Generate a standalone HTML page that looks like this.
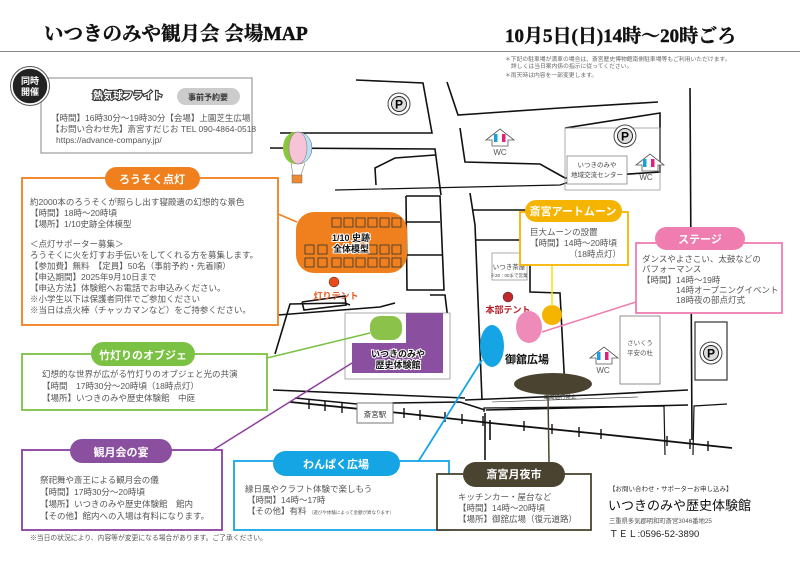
<!DOCTYPE html>
<html><head><meta charset="utf-8">
<style>
html,body{margin:0;padding:0;background:#fff;}
svg{display:block;}
text{font-family:"Liberation Sans","Noto Sans CJK JP",sans-serif;}
.t{font-size:8.5px;fill:#555;}
.pill{font-size:11px;fill:#fff;font-weight:bold;}
.serif{font-family:"Liberation Serif","Noto Serif CJK JP",serif;font-weight:bold;}
</style></head>
<body>
<svg width="800" height="566" viewBox="0 0 800 566" xmlns="http://www.w3.org/2000/svg">
<rect width="800" height="566" fill="#fff"/>
<!-- header -->
<text x="44" y="40" class="serif" font-size="19.5" fill="#111" stroke="#111" stroke-width="0.4">いつきのみや観月会 会場MAP</text>
<text x="505" y="42" class="serif" font-size="19" fill="#111" stroke="#111" stroke-width="0.4">10月5日(日)14時～20時ごろ</text>
<line x1="0" y1="51.5" x2="800" y2="51.5" stroke="#888" stroke-width="1"/>
<text x="505" y="61" font-size="5.8" fill="#666">＊下記の駐車場が満車の場合は、斎宮歴史博物館南側駐車場等もご利用いただけます。</text>
<text x="511" y="68" font-size="5.8" fill="#666">詳しくは当日案内係の指示に従ってください。</text>
<text x="505" y="77" font-size="5.8" fill="#666">＊雨天時は内容を一部変更します。</text>

<!-- roads -->
<g fill="none" stroke="#111" stroke-width="1.6">
<polyline points="356,80 423,83 432,133 280,133"/>
<polyline points="270,148 435,149 441,195"/>
<polyline points="376,185 375,168 395,158 435,155"/>
<polyline points="447,82 458,115 560,108 658,102"/>
<polyline points="460,128 465,162 540,164 565,178 660,172 660,113 565,128"/>
<polyline points="470,193 475,225 482,400"/>
<polyline points="473,210 530,210"/>
<polyline points="475,240 530,240 530,292 560,293 565,390"/>
<line x1="690" y1="88" x2="692" y2="440"/>
<polyline points="406,196 440,196 444,290 407,290 406,196"/>
<polyline points="407,222 440,222"/>
<polyline points="405,255 442,255"/>
<polyline points="278,315 380,307 395,303"/>
<polyline points="302,302 345,296 346,305 304,310 302,302"/>
<polyline points="430,295 445,295 448,320"/>
<polyline points="275,354 290,304 345,303 350,305"/>
<polyline points="465,400 590,395 688,390"/>
<polyline points="486,410 688,405"/>
<polyline points="490,420 490,440"/>
<polyline points="485,413 485,460"/>
<line x1="273" y1="390" x2="465" y2="398"/>
<line x1="295" y1="398" x2="357" y2="404"/>
<polyline points="392,403 460,402 485,410"/>
</g>
<polyline points="335,190 560,185 575,180" fill="none" stroke="#111" stroke-width="1.2"/>
<rect x="565" y="128" width="95" height="62" fill="none" stroke="#999" stroke-width="0.8"/>
<rect x="567" y="156" width="60" height="28" fill="#fff" stroke="#777" stroke-width="0.7"/>
<text x="597" y="167" text-anchor="middle" font-size="6.5" fill="#444">いつきのみや</text>
<text x="597" y="177" text-anchor="middle" font-size="6.5" fill="#444">地域交流センター</text>
<!-- plaza boxes -->
<rect x="620" y="316" width="40" height="68" fill="#fff" stroke="#777" stroke-width="0.8"/>
<text x="640" y="345" text-anchor="middle" font-size="6.5" fill="#555">さいくう</text>
<text x="640" y="355" text-anchor="middle" font-size="6.5" fill="#555">平安の杜</text>
<rect x="695" y="322" width="32" height="58" fill="none" stroke="#333" stroke-width="1.2"/>
<!-- rail -->
<polyline points="290,402 400,413 500,424 600,434 732,448" fill="none" stroke="#111" stroke-width="1.8"/>
<g stroke="#111" stroke-width="1.4">
<line x1="309" y1="399" x2="309" y2="409"/><line x1="325" y1="401" x2="325" y2="411"/><line x1="342" y1="403" x2="342" y2="413"/>
<line x1="404" y1="408" x2="404" y2="418"/><line x1="420" y1="410" x2="420" y2="420"/><line x1="445" y1="412" x2="445" y2="422"/><line x1="462" y1="414" x2="462" y2="424"/><line x1="483" y1="416" x2="483" y2="426"/><line x1="524" y1="421" x2="524" y2="431"/><line x1="552" y1="424" x2="552" y2="434"/><line x1="579" y1="427" x2="579" y2="437"/><line x1="601" y1="429" x2="601" y2="439"/><line x1="667" y1="436" x2="667" y2="446"/><line x1="690" y1="439" x2="690" y2="449"/><line x1="708" y1="441" x2="708" y2="451"/>
</g>
<polyline points="484,412 484,408 664,406 665,455" fill="none" stroke="#111" stroke-width="1.2"/>
<polyline points="693,455 694,406 727,404" fill="none" stroke="#111" stroke-width="1.2"/>
<rect x="357" y="403" width="36" height="20" fill="#fff" stroke="#777"/>
<text x="375" y="417" text-anchor="middle" font-size="7.5" fill="#333">斎宮駅</text>
<line x1="492" y1="402" x2="638" y2="397" stroke="#333" stroke-width="0.6"/>
<text x="560" y="399" text-anchor="middle" font-size="5.5" fill="#333" transform="rotate(-1 560 399)">車両通行禁止</text>

<!-- P icons -->
<g font-size="12" font-weight="bold" text-anchor="middle">
<circle cx="399" cy="104" r="11" fill="#fff" stroke="#444"/><circle cx="399" cy="104" r="7.5" fill="#ddd" stroke="#222"/><text x="399" y="108.5">P</text>
<circle cx="625" cy="136" r="11" fill="#fff" stroke="#444"/><circle cx="625" cy="136" r="7.5" fill="#ddd" stroke="#222"/><text x="625" y="140.5">P</text>
<circle cx="711" cy="353" r="11" fill="#fff" stroke="#444"/><circle cx="711" cy="353" r="7.5" fill="#ddd" stroke="#222"/><text x="711" y="357.5">P</text>
</g>
<!-- WC -->
<g font-size="8" fill="#555" text-anchor="middle">
<path d="M486,140 l14,-11 l14,11 l-6,0 l0,6 l-16,0 l0,-6z" fill="#fff" stroke="#555" stroke-width="0.8"/>
<rect x="494" y="134" width="3.5" height="8" fill="#1aa0e0"/><rect x="502" y="134" width="3.5" height="8" fill="#e0207a"/>
<text x="500" y="155">WC</text>
<path d="M636,165 l14,-11 l14,11 l-6,0 l0,6 l-16,0 l0,-6z" fill="#fff" stroke="#555" stroke-width="0.8"/>
<rect x="643" y="159" width="3.5" height="8" fill="#1aa0e0"/><rect x="651" y="159" width="3.5" height="8" fill="#e0207a"/>
<text x="646" y="180">WC</text>
<path d="M590,358 l14,-11 l14,11 l-6,0 l0,6 l-16,0 l0,-6z" fill="#fff" stroke="#555" stroke-width="0.8"/>
<rect x="597" y="352" width="3.5" height="8" fill="#1aa0e0"/><rect x="605" y="352" width="3.5" height="8" fill="#e0207a"/>
<text x="603" y="373">WC</text>
</g>

<!-- balloon -->
<ellipse cx="298" cy="148" rx="14" ry="16" fill="#b9e0f5" stroke="#555" stroke-width="0.5"/>
<ellipse cx="295" cy="148" rx="12" ry="16" fill="#8cc63f"/>
<ellipse cx="298" cy="148" rx="9" ry="16" fill="#f6c3d7" stroke="#777" stroke-width="0.5"/>
<rect x="292" y="175" width="10" height="8" fill="#f08a30" stroke="#666" stroke-width="0.5"/>
<line x1="291" y1="163" x2="293" y2="175" stroke="#666" stroke-width="0.5"/><line x1="305" y1="163" x2="301" y2="175" stroke="#666" stroke-width="0.5"/>

<!-- 1/10 model -->
<rect x="296" y="212" width="111" height="61" rx="18" fill="#f0801e"/>
<g fill="none" stroke="#333" stroke-width="0.8">
<rect x="332" y="218" width="9" height="9"/><rect x="344" y="218" width="9" height="9"/><rect x="356" y="218" width="9" height="9"/><rect x="368" y="218" width="9" height="9"/><rect x="380" y="218" width="9" height="9"/><rect x="392" y="218" width="9" height="9"/>
<rect x="305" y="245" width="9" height="9"/><rect x="318" y="245" width="9" height="9"/><rect x="368" y="245" width="9" height="9"/><rect x="380" y="245" width="9" height="9"/><rect x="392" y="245" width="9" height="9"/>
<rect x="305" y="258" width="9" height="9"/><rect x="318" y="258" width="9" height="9"/><rect x="332" y="258" width="9" height="9"/><rect x="344" y="258" width="9" height="9"/><rect x="356" y="258" width="9" height="9"/><rect x="368" y="258" width="9" height="9"/><rect x="380" y="258" width="9" height="9"/><rect x="392" y="258" width="9" height="9"/>
</g>
<text x="351" y="241" text-anchor="middle" font-size="9" font-weight="bold" fill="#111" stroke="#fff" stroke-width="2" paint-order="stroke">1/10 史跡</text>
<text x="351" y="252" text-anchor="middle" font-size="9" font-weight="bold" fill="#111" stroke="#fff" stroke-width="2" paint-order="stroke">全体模型</text>
<circle cx="334" cy="282" r="5" fill="#e84a1a" stroke="#333" stroke-width="0.5"/>
<text x="336" y="299" text-anchor="middle" font-size="9" font-weight="bold" fill="#e85a1a">灯りテント</text>

<!-- tea house / HQ -->
<rect x="492" y="253" width="35" height="27" fill="#fff" stroke="#888" stroke-width="0.7"/>
<text x="509" y="269" text-anchor="middle" font-size="6.5" fill="#444">いつき茶屋</text>
<text x="509" y="277" text-anchor="middle" font-size="4.5" fill="#444">※20：00まで営業</text>
<circle cx="508" cy="297" r="5" fill="#c0282a" stroke="#333" stroke-width="0.5"/>
<text x="508" y="313" text-anchor="middle" font-size="9" font-weight="bold" fill="#b8202a">本部テント</text>

<!-- purple building & green -->
<rect x="345" y="313" width="105" height="66" fill="#fff" stroke="#888" stroke-width="0.7"/>
<path d="M406,313 L443,313 L443,373 L352,373 L352,343 L406,343 Z" fill="#8b4fa0"/>
<rect x="370" y="316" width="32" height="24" rx="10" fill="#8bc34a"/>
<text x="398" y="357" text-anchor="middle" font-size="9" font-weight="bold" fill="#111" stroke="#fff" stroke-width="2" paint-order="stroke">いつきのみや</text>
<text x="398" y="368" text-anchor="middle" font-size="9" font-weight="bold" fill="#111" stroke="#fff" stroke-width="2" paint-order="stroke">歴史体験館</text>

<!-- plaza spots -->
<ellipse cx="492" cy="346" rx="12" ry="21" fill="#15a5e5"/>
<ellipse cx="529" cy="327" rx="13" ry="16" fill="#ef8bb8"/>
<circle cx="552" cy="315" r="10" fill="#f5b400"/>
<text x="527" y="363" text-anchor="middle" font-size="11" font-weight="bold" fill="#111">御舘広場</text>
<ellipse cx="553" cy="384" rx="39" ry="11" fill="#4a4330"/>

<!-- connector lines -->
<line x1="552" y1="265" x2="552" y2="306" stroke="#f5e400" stroke-width="1.5"/>
<line x1="542" y1="332" x2="636" y2="302" stroke="#ef7db0" stroke-width="1.5"/>
<line x1="267" y1="358" x2="370" y2="333" stroke="#7bc143" stroke-width="1.5"/>
<line x1="213" y1="450" x2="352" y2="363" stroke="#8b3f9e" stroke-width="1.5"/>
<line x1="418" y1="462" x2="482" y2="360" stroke="#15a5e5" stroke-width="1.8"/>
<line x1="548" y1="395" x2="549" y2="462" stroke="#4a4330" stroke-width="1.5"/>
<line x1="278" y1="214" x2="297" y2="222" stroke="#f0801e" stroke-width="1.5"/>

<!-- 熱気球 box -->
<rect x="41" y="78" width="211" height="75" fill="#fff" stroke="#888" stroke-width="1"/>
<circle cx="30" cy="86" r="18" fill="#222" stroke="#fff" stroke-width="1.5"/>
<circle cx="30" cy="86" r="19.5" fill="none" stroke="#555" stroke-width="1"/>
<text x="30" y="84" text-anchor="middle" font-size="9" font-weight="bold" fill="#fff">同時</text>
<text x="30" y="95" text-anchor="middle" font-size="9" font-weight="bold" fill="#fff">開催</text>
<text x="128" y="99" text-anchor="middle" font-size="10" font-weight="bold" fill="#fff" stroke="#333" stroke-width="2.2" paint-order="stroke">熱気球フライト</text>
<rect x="177" y="88" width="63" height="17" rx="8.5" fill="#ccc"/>
<text x="208" y="100" text-anchor="middle" font-size="8" font-weight="bold" fill="#333">事前予約要</text>
<text x="51" y="121" class="t" font-size="7.8">【時間】16時30分～19時30分【会場】上園芝生広場</text>
<text x="51" y="132" class="t" font-size="7.8">【お問い合わせ先】斎宮すだじお TEL 090-4864-0518</text>
<text x="56" y="143" class="t" font-size="7.8">https://advance-company.jp/</text>

<!-- orange box -->
<rect x="22" y="178" width="256" height="147" fill="#fff" stroke="#f0801e" stroke-width="1.8"/>
<rect x="105" y="167" width="95" height="23" rx="11.5" fill="#f0801e"/>
<text x="152" y="183" text-anchor="middle" class="pill">ろうそく点灯</text>
<g class="t">
<text x="30" y="205">約2000本のろうそくが照らし出す寝殿遺の幻想的な景色</text>
<text x="30" y="216">【時間】18時～20時頃</text>
<text x="30" y="227">【場所】1/10史跡全体模型</text>
<text x="30" y="247">＜点灯サポーター募集＞</text>
<text x="30" y="258">ろうそくに火を灯すお手伝いをしてくれる方を募集します。</text>
<text x="30" y="269">【参加費】無料　【定員】50名（事前予約・先着順）</text>
<text x="30" y="280">【申込期間】2025年9月10日まで</text>
<text x="30" y="291">【申込方法】体験館へお電話でお申込みください。</text>
<text x="30" y="302">※小学生以下は保護者同伴でご参加ください</text>
<text x="30" y="313">※当日は点火棒（チャッカマンなど）をご持参ください。</text>
</g>

<!-- green box -->
<rect x="22" y="354" width="245" height="56" fill="#fff" stroke="#7bc143" stroke-width="1.8"/>
<rect x="91" y="342" width="104" height="24" rx="12" fill="#7bc143"/>
<text x="143" y="359" text-anchor="middle" class="pill">竹灯りのオブジェ</text>
<g class="t">
<text x="42" y="377">幻想的な世界が広がる竹灯りのオブジェと光の共演</text>
<text x="42" y="389">【時間　17時30分～20時頃（18時点灯）</text>
<text x="42" y="401">【場所】いつきのみや歴史体験館　中庭</text>
</g>

<!-- purple box -->
<rect x="22" y="450" width="200" height="80" fill="#fff" stroke="#8b3f9e" stroke-width="1.8"/>
<rect x="70" y="439" width="102" height="24" rx="12" fill="#8b4fa0"/>
<text x="121" y="456" text-anchor="middle" class="pill">観月会の宴</text>
<g class="t">
<text x="40" y="483">祭祀舞や斎王による観月会の儀</text>
<text x="40" y="495">【時間】17時30分～20時頃</text>
<text x="40" y="507">【場所】いつきのみや歴史体験館　館内</text>
<text x="40" y="519">【その他】館内への入場は有料になります。</text>
</g>
<text x="30" y="540" font-size="6.8" fill="#555">※当日の状況により、内容等が変更になる場合があります。ご了承ください。</text>

<!-- blue box -->
<rect x="234" y="461" width="215" height="69" fill="#fff" stroke="#15a5e5" stroke-width="1.8"/>
<rect x="273" y="451" width="127" height="25" rx="12.5" fill="#15a5e5"/>
<text x="336" y="468" text-anchor="middle" class="pill">わんぱく広場</text>
<g class="t">
<text x="245" y="492">縁日風やクラフト体験で楽しもう</text>
<text x="247" y="503">【時間】14時～17時</text>
<text x="247" y="514">【その他】有料 <tspan font-size="4.5">（遊びや体験によって金額が異なります）</tspan></text>
</g>

<!-- brown box -->
<rect x="437" y="474" width="154" height="56" fill="#fff" stroke="#4a4330" stroke-width="1.8"/>
<rect x="463" y="462" width="102" height="25" rx="12.5" fill="#4a4330"/>
<text x="514" y="478" text-anchor="middle" class="pill">斎宮月夜市</text>
<g class="t">
<text x="458" y="500">キッチンカー・屋台など</text>
<text x="458" y="511">【時間】14時～20時頃</text>
<text x="458" y="522">【場所】御舘広場（復元道路）</text>
</g>

<!-- contact -->
<text x="609" y="491" font-size="6.5" fill="#333">【お問い合わせ・サポーターお申し込み】</text>
<text x="608" y="510" font-size="13" fill="#111">いつきのみや歴史体験館</text>
<text x="609" y="523" font-size="6.3" fill="#555">三重県多気郡明和町斎宮3046番地25</text>
<text x="609" y="537" font-size="9.5" fill="#222">ＴＥＬ:0596-52-3890</text>

<!-- yellow box -->
<rect x="520" y="212" width="108" height="53" fill="#fff" stroke="#f5b400" stroke-width="1.8"/>
<rect x="525" y="200" width="97" height="22" rx="11" fill="#f5b400"/>
<text x="573" y="215" text-anchor="middle" class="pill" font-size="10.5">斎宮アートムーン</text>
<g class="t">
<text x="530" y="235">巨大ムーンの設置</text>
<text x="530" y="246">【時間】14時～20時頃</text>
<text x="569" y="257">（18時点灯）</text>
</g>

<!-- stage box -->
<rect x="636" y="243" width="146" height="70" fill="#fff" stroke="#ef7db0" stroke-width="1.8"/>
<rect x="655" y="227" width="90" height="23" rx="11.5" fill="#ef7db0"/>
<text x="700" y="243" text-anchor="middle" class="pill">ステージ</text>
<g class="t">
<text x="642" y="262">ダンスやよさこい、太鼓などの</text>
<text x="642" y="272">パフォーマンス</text>
<text x="642" y="283">【時間】14時～19時</text>
<text x="676" y="293">14時オープニングイベント</text>
<text x="676" y="303">18時夜の部点灯式</text>
</g>
</svg>
</body></html>
